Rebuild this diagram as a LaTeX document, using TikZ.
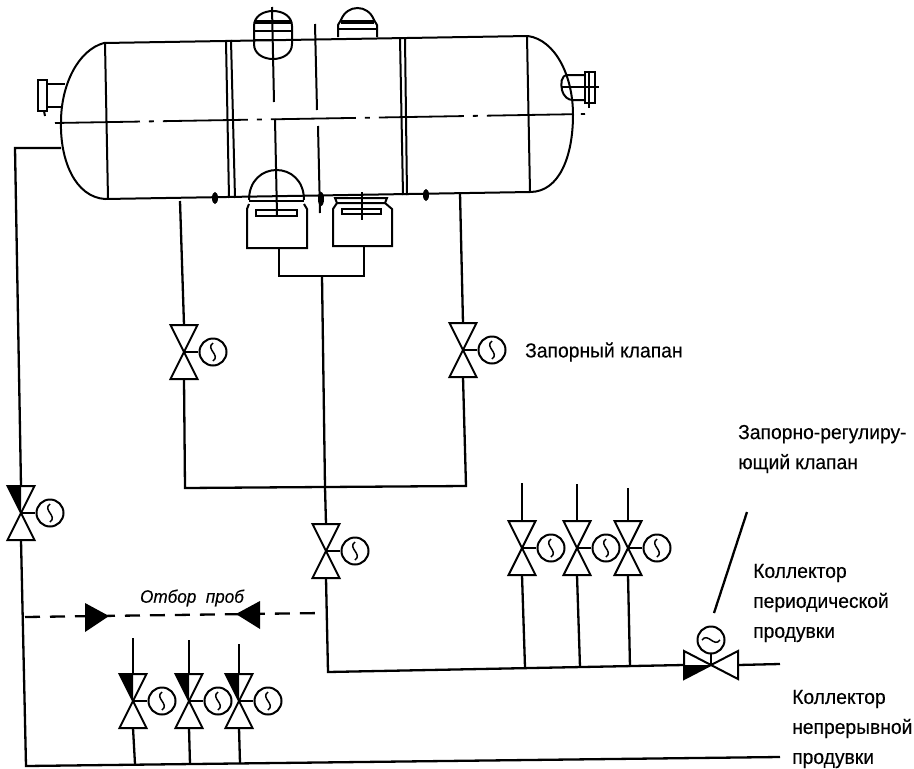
\documentclass[tikz,border=0pt]{standalone}
\usepackage{fontspec}
\setmainfont[FakeStretch=0.95, FakeBold=0.3]{Liberation Sans}
\usepackage{tikz}
\tikzset{
	pipe/.style={line width=2.3pt},
	shell/.style={line width=2pt},
	axisline/.style={line width=1.8pt, dash pattern=on 85pt off 9pt on 5pt off 9pt},
	label/.style={anchor=west, inner sep=0pt, align=left, font=\fontsize{20.3}{30}\selectfont},
	motor/.style={circle, draw, line width=2pt, fill=white, minimum size=27pt, inner sep=0pt},
	vvalve/.pic={
		\coordinate (-top) at (0, -27);
		\coordinate (-bot) at (0, 27);
		\draw[pipe] (0, 0) -- (14, 0);
		\node[motor] (-m) at (29, 0) {};
		\draw[line width=1.5pt] (29, -9) .. controls (21, -3) and (37, 3) .. (29, 9);
		\draw[shell, line join=miter] (-13.5, -27) -- (13.5, -27) -- (-13.5, 27) -- (13.5, 27) -- cycle;
	},
	vvalvedark/.pic={
		\fill (-13.5, -27) -- (0, -27) -- (0, 0) -- cycle;
		\pic {vvalve};
	},
	hvalve/.pic={
		\coordinate (-left) at (-27, 0);
		\coordinate (-right) at (27, 0);
		\fill (-27, 0) -- (-27, 14) -- (0, 0) -- cycle;
		\draw[pipe] (0, 0) -- (0, -11);
		\node[motor] (-m) at (0, -25) {};
		\draw[line width=1.5pt] (-9, -25) .. controls (-3, -33) and (3, -17) .. (9, -25);
		\draw[shell, line join=miter] (-27, -14) -- (27, 14) -- (27, -14) -- (-27, 14) -- cycle;
	},
}

\begin{document}
\begin{tikzpicture}[x=1pt, y=-1pt]
	\useasboundingbox (0, 0) rectangle (914, 769);
	% vessel
	\draw[shell] (104, 43) -- (528, 36) .. controls (555, 40) and (573, 75) .. (573, 115)
		.. controls (573, 155) and (560, 192) .. (530, 192) -- (105, 199)
		.. controls (75, 197) and (60, 160) .. (61, 122) .. controls (61, 85) and (78, 50) .. (104, 43);
	\draw[shell] (105, 43) -- (108, 199);
	\draw[shell] (226, 41) -- (229, 198);
	\draw[shell] (231, 40) -- (235, 198);
	\draw[shell] (400, 38) -- (403, 195);
	\draw[shell] (405, 38) -- (407, 195);
	\draw[shell] (527, 36) -- (530, 192);
	\draw[axisline] (55, 123) -- (585, 114);
	\draw[shell] (272, 7) -- (274, 102);
	\draw[shell] (275, 119) -- (277, 215);
	\draw[shell] (315, 24) -- (317, 110);
	\draw[shell] (318, 126) -- (320, 213);
	\fill (215, 198) ellipse (3 and 6);
	\fill (321, 199) ellipse (3 and 7);
	\fill (426, 195) ellipse (3 and 6);
	% upper nozzles
	\draw[shell] (254, 26) .. controls (254, 6) and (292, 6) .. (292, 26) -- (292, 44)
		.. controls (292, 64) and (254, 64) .. (254, 44) -- cycle;
	\fill (255, 20) rectangle (291, 24);
	\draw[shell] (254, 31) -- (292, 31);
	\draw[shell] (254, 40) -- (292, 40);
	\draw[shell] (338, 37) -- (338, 25) -- (341, 20) .. controls (347, 4) and (368, 4) .. (374, 20) -- (377, 25) -- (377, 37);
	\fill (341, 20) rectangle (374, 24);
	\draw[shell] (338, 29) -- (377, 29);
	% end nozzles
	\draw[shell] (38, 80) rectangle (47, 111);
	\draw[shell] (47, 84) -- (65, 84);
	\draw[shell] (47, 107) -- (62, 107);
	\draw[shell] (44, 111) -- (45, 116);
	\draw[shell] (585, 75) -- (568, 75) .. controls (560, 75) and (561, 85) .. (562, 90) .. controls (564, 97) and (568, 100) .. (573, 100) -- (585, 100);
	\draw[shell] (562, 87) -- (599, 87);
	\draw[shell] (585, 72) rectangle (595, 103);
	\draw[shell] (589, 72) -- (589, 108);
	% lower nozzles
	\draw[shell] (249, 200) .. controls (249, 160) and (304, 160) .. (304, 200);
	\draw[shell] (249, 201) -- (304, 201);
	\draw[shell] (256, 210) -- (256, 216) -- (297, 216) -- (297, 210) -- cycle;
	\draw[shell] (249, 204) -- (247, 209) -- (247, 248) -- (307, 248) -- (307, 209) -- (304, 204);
	\draw[shell] (335, 198) -- (387, 198) -- (385, 203) -- (337, 203) -- cycle;
	\draw[shell] (342, 209) -- (342, 214) -- (381, 214) -- (381, 209) -- cycle;
	\draw[shell] (337, 203) -- (333, 209) -- (333, 246) -- (392, 246) -- (392, 209) -- (385, 203);
	\draw[shell] (362, 192) -- (362, 220);
	% pipe points
	\coordinate (boxa) at (279, 248);
	\coordinate (boxb) at (364, 246);
	\coordinate (boxaj) at (279, 276);
	\coordinate (boxbj) at (364, 276);
	\coordinate (mid) at (322, 276);
	\coordinate (outa) at (180, 201);
	\coordinate (outb) at (460, 193);
	\coordinate (drain) at (61, 148);
	\coordinate (drainc) at (15, 148);
	\coordinate (joina) at (185, 488);
	\coordinate (joinb) at (466, 486);
	\coordinate (joinm) at (325, 487);
	\coordinate (perc) at (328, 672);
	\coordinate (contc) at (26, 766);
	\coordinate (contend) at (780, 757);
	\coordinate (perend) at (780, 664);
	% valves
	\pic (va) at (184, 352) {vvalve};
	\pic (vb) at (463, 350) {vvalve};
	\pic (vm) at (326, 551) {vvalve};
	\pic (vd) at (21, 513) {vvalvedark};
	\pic (ua) at (522, 548) {vvalve};
	\pic (ub) at (577, 548) {vvalve};
	\pic (uc) at (628, 548) {vvalve};
	\pic (la) at (133, 701) {vvalvedark};
	\pic (lb) at (189, 701) {vvalvedark};
	\pic (lc) at (239, 701) {vvalvedark};
	\pic (hv) at (711, 665) {hvalve};
	% pipes
	\draw[pipe] (boxa) -- (boxaj) -- (boxbj) -- (boxb);
	\draw[pipe] (mid) -- (joinm) -- (vm-top);
	\draw[pipe] (outa) -- (va-top);
	\draw[pipe] (outb) -- (vb-top);
	\draw[pipe] (va-bot) -- (joina) -- (joinm) -- (joinb) -- (vb-bot);
	\draw[pipe] (vm-bot) -- (perc) -- (hv-left);
	\draw[pipe] (hv-right) -- (perend);
	\draw[pipe] (drain) -- (drainc) -- (vd-top);
	\draw[pipe] (vd-bot) -- (contc) -- (contend);
	%
	\foreach \v/\t/\b/\e in {ua/483/525/667, ub/484/580/667, uc/488/630/667} {
		\coordinate (\v-in) at (\v-top |- 0, \t);
		\coordinate (\v-out) at (\b, \e);
		\draw[pipe] (\v-in) -- (\v-top);
		\draw[pipe] (\v-bot) -- (\v-out);
	}
	\foreach \v/\t/\b/\e in {la/638/135/764, lb/640/190/764, lc/644/240/763} {
		\coordinate (\v-in) at (\v-top |- 0, \t);
		\coordinate (\v-out) at (\b, \e);
		\draw[pipe] (\v-in) -- (\v-top);
		\draw[pipe] (\v-bot) -- (\v-out);
	}
	% sampling line
	\coordinate (sampa) at (25, 617);
	\coordinate (sampb) at (323, 613);
	\draw[pipe, dash pattern=on 15pt off 10pt] (sampa) -- (sampb);
	\fill (85, 603) -- (109, 616) -- (85, 632) -- cycle;
	\fill (260, 601) -- (236, 614) -- (260, 629) -- cycle;
	\node[font=\fontsize{18}{20}\selectfont\itshape] (samplabel) at (192, 598) {Отбор\ \ проб};
	% leader
	\coordinate (leada) at (747, 512);
	\coordinate (leadb) at (714, 613);
	\draw[pipe] (leada) -- (leadb);
	% labels
	\node[label] (shutlabel) at (525, 352) {Запорный клапан};
	\node[label] (ctrllabel) at (738, 449) {Запорно-регулиру-\\ющий клапан};
	\node[label] (perlabel) at (753, 603) {Коллектор\\периодической\\продувки};
	\node[label] (contlabel) at (792, 729) {Коллектор\\непрерывной\\продувки};
\end{tikzpicture}
\end{document}
